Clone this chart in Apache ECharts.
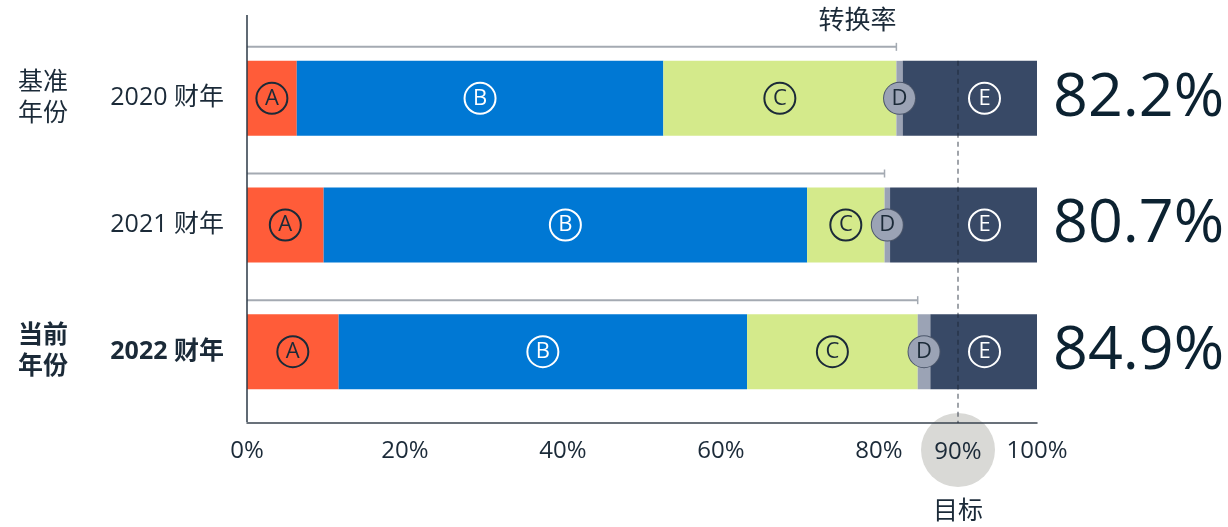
<!DOCTYPE html>
<html>
<head>
<meta charset="utf-8">
<script src="https://cdn.jsdelivr.net/npm/echarts@6/dist/echarts.min.js"></script>
<style>
  html, body { margin: 0; padding: 0; background: #ffffff; }
  #chart { width: 1228px; height: 527px; }
</style>
</head>
<body>
<div id="chart"></div>
<script>
// Fiscal years and their group captions
const categories = ['2020 财年', '2021 财年', '2022 财年'];
const groupLabels = ['基准\n年份', '', '当前\n年份'];

// Share of each stage (percent of 100)
const segA = [6.3, 9.7, 11.6];
const segB = [46.4, 61.2, 51.7];
const segC = [29.5, 9.8, 21.6];
const segD = [0.8, 0.7, 1.6];
const segE = [17.0, 18.6, 13.5];

// Conversion rate per year (A + B + C)
const conversion = [82.2, 80.7, 84.9];
const target = 90;
const tickValues = [0, 20, 40, 60, 80, 100];

const FONT = '"Segoe UI", "Open Sans", "Noto Sans CJK SC", sans-serif';
const INK = '#1b2a38';
const BAR_W = 75;
const TXT = 25;

const chart = echarts.init(document.getElementById('chart'), null, { renderer: 'canvas' });

function circleLabel(letter, ink, fill, border, position, distance) {
  return {
    show: true,
    position: position || 'inside',
    distance: distance || 0,
    formatter: '{c|' + letter + '}',
    rich: {
      c: {
        width: 31, height: 31, lineHeight: 31,
        borderRadius: 16, borderWidth: 1, borderColor: border,
        backgroundColor: fill, color: ink,
        align: 'center', verticalAlign: 'middle',
        fontSize: 22, fontFamily: FONT
      }
    }
  };
}

const segments = [
  { name: 'A', data: segA, color: '#ff5c39', label: circleLabel('A', INK, 'transparent', INK) },
  { name: 'B', data: segB, color: '#0078d4', label: circleLabel('B', '#ffffff', 'transparent', '#ffffff') },
  { name: 'C', data: segC, color: '#d4ea8b', label: circleLabel('C', INK, 'transparent', INK) },
  { name: 'D', data: segD, color: '#9ba3b5', label: circleLabel('D', INK, '#9ba3b5', '#4b566a') },
  { name: 'E', data: segE, color: '#384966', label: circleLabel('E', '#ffffff', 'transparent', '#ffffff', 'insideRight', 37) }
];

const series = segments.map(s => ({
  name: s.name,
  type: 'bar',
  stack: 'total',
  barWidth: BAR_W,
  data: s.data,
  itemStyle: { color: s.color },
  label: s.label,
  silent: true,
  z: 2
}));

// Zero-width cap at the end of each bar carrying the conversion rate
series.push({
  name: 'rate',
  type: 'bar',
  stack: 'total',
  barWidth: BAR_W,
  data: conversion.map(() => 0),
  itemStyle: { color: 'transparent' },
  silent: true,
  label: {
    show: true,
    position: 'right',
    distance: 16,
    formatter: p => conversion[p.dataIndex].toFixed(1) + '%',
    fontSize: 61,
    fontFamily: FONT,
    color: '#0c2231'
  }
});

// Conversion brackets above the bars and the dashed target line
series.push({
  name: 'brackets',
  type: 'custom',
  data: conversion.map((v, i) => [v, i]),
  encode: { x: 0, y: 1 },
  z: 5,
  silent: true,
  renderItem(params, api) {
    const i = api.value(1);
    const start = api.coord([0, i]);
    const end = api.coord([api.value(0), i]);
    const band = api.size([0, 1])[1];
    const y = start[1] - BAR_W / 2 - 14;
    const stroke = '#a4aab2';
    const children = [
      { type: 'line', shape: { x1: start[0], y1: y, x2: end[0], y2: y }, style: { stroke, lineWidth: 2 } },
      { type: 'line', shape: { x1: end[0], y1: y - 4, x2: end[0], y2: y + 4 }, style: { stroke, lineWidth: 1.5 } }
    ];
    if (params.dataIndex === 0) {
      children.push({
        type: 'text',
        style: { text: '转换率', x: end[0], y: y - 12, align: 'right', verticalAlign: 'bottom',
                 fontSize: 26, fontFamily: FONT, fill: INK }
      });
      const t = api.coord([target, i]);
      const last = api.coord([target, categories.length - 1]);
      children.push({
        type: 'line',
        shape: { x1: t[0], y1: t[1] - BAR_W / 2, x2: t[0], y2: last[1] + band / 2 + 8 },
        style: { stroke: 'rgba(25,35,50,0.55)', lineWidth: 1.5, lineDash: [5, 4] }
      });
    }
    return { type: 'group', children };
  }
});

const option = {
  animation: false,
  backgroundColor: '#ffffff',
  textStyle: { fontFamily: FONT },
  grid: { left: 247, right: 191, top: 35, height: 380, containLabel: false },
  xAxis: {
    type: 'value',
    min: 0, max: 100, interval: 10,
    offset: 8,
    axisLine: { show: true, lineStyle: { color: '#38434f', width: 1.5 } },
    axisTick: { show: false },
    splitLine: { show: false },
    axisLabel: {
      customValues: tickValues,
      formatter: v => v + '%',
      margin: 16,
      fontSize: 24,
      color: INK,
      fontFamily: FONT
    }
  },
  yAxis: [
    {
      type: 'category',
      inverse: true,
      data: categories,
      axisLine: { show: false },
      axisTick: { show: false },
      axisLabel: {
        margin: 23,
        formatter: (v, i) => (i === 2 ? '{b|' + v + '}' : '{n|' + v + '}'),
        rich: {
          n: { fontSize: TXT, color: INK, fontFamily: FONT },
          b: { fontSize: TXT, color: INK, fontFamily: FONT, fontWeight: 'bold' }
        }
      }
    },
    {
      type: 'category',
      inverse: true,
      position: 'left',
      data: categories,
      axisLine: { show: false },
      axisTick: { show: false },
      axisLabel: {
        margin: 229,
        align: 'left',
        formatter: (v, i) => {
          const g = groupLabels[i];
          if (!g) return '';
          const tag = i === 2 ? 'b' : 'n';
          return g.split('\n').map(s => '{' + tag + '|' + s + '}').join('\n');
        },
        rich: {
          n: { fontSize: TXT, lineHeight: 31, color: INK, fontFamily: FONT },
          b: { fontSize: TXT, lineHeight: 31, color: INK, fontFamily: FONT, fontWeight: 'bold' }
        }
      }
    }
  ],
  series
};

chart.setOption(option);

// Frame line on the left and the highlighted target tick
const x0 = chart.convertToPixel({ xAxisIndex: 0 }, 0);
const xT = chart.convertToPixel({ xAxisIndex: 0 }, target);
const axisY = 422;
chart.setOption({
  graphic: [
    {
      type: 'line', z: 10, silent: true,
      shape: { x1: x0, y1: 15, x2: x0, y2: axisY },
      style: { stroke: '#2b3846', lineWidth: 1.5 }
    },
    {
      type: 'group', z: 20, silent: true,
      children: [
        { type: 'circle', shape: { cx: xT, cy: 450, r: 37 }, style: { fill: '#d9d9d6' } },
        { type: 'text', style: { text: target + '%', x: xT, y: 452, align: 'center', verticalAlign: 'middle',
                                 fontSize: 24, fontFamily: FONT, fill: INK } },
        { type: 'text', style: { text: '目标', x: xT, y: 512, align: 'center', verticalAlign: 'middle',
                                 fontSize: TXT, fontFamily: FONT, fill: INK } }
      ]
    }
  ]
});
</script>
</body>
</html>
